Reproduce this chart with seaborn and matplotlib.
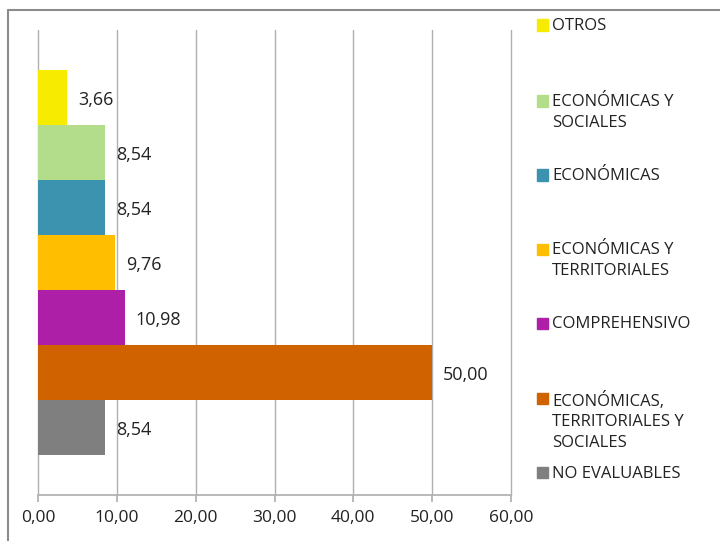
import numpy as np
import pandas as pd
import seaborn as sns
import matplotlib.pyplot as plt
from matplotlib.ticker import FuncFormatter, MultipleLocator
from matplotlib.lines import Line2D
from matplotlib.patches import Rectangle

# ─── Data ────────────────────────────────────────────────────────────────────
categories = ['OTROS', 'ECONÓMICAS Y\nSOCIALES', 'ECONÓMICAS',
              'ECONÓMICAS Y\nTERRITORIALES', 'COMPREHENSIVO',
              'ECONÓMICAS,\nTERRITORIALES Y\nSOCIALES', 'NO EVALUABLES']
values = [3.66, 8.54, 8.54, 9.76, 10.98, 50.00, 8.54]
colors = ['#F7EC00', '#B3DC8B', '#3C93AF', '#FFBF00', '#AE1FA8', '#D16200', '#7F7F7F']

# legend entry first-line centres (figure px from top)
legend_y = [25, 101, 175, 249, 323, 398, 472]

sns.set_theme(style='white')
plt.rcParams['font.family'] = ['Open Sans', 'DejaVu Sans']

df = pd.DataFrame({'cat': categories, 'val': values})

W, H = 720, 541
fig = plt.figure(figsize=(W / 100, H / 100), dpi=100)
ax = fig.add_axes([38 / W, 1 - 495 / H, (511 - 38) / W, (495 - 30) / H])

sns.barplot(data=df, y='cat', x='val', hue='cat', palette=colors,
            order=categories, width=1.0, dodge=False, legend=False,
            saturation=1, ax=ax, edgecolor='none')

pad = 40 / 55
ax.set_ylim(len(categories) - 0.5 + pad, -0.5 - pad)
ax.set_xlim(0, 60)
ax.xaxis.set_major_locator(MultipleLocator(10))
ax.xaxis.set_major_formatter(FuncFormatter(lambda v, _: f'{v:.2f}'.replace('.', ',')))
ax.set_yticks([])
ax.set_xlabel('')
ax.set_ylabel('')

ax.grid(axis='x', color='#B0B0B0', lw=1)
ax.set_axisbelow(True)
for gl in ax.get_xgridlines():
    gl.set_clip_on(False)
for s in ['top', 'right', 'left']:
    ax.spines[s].set_visible(False)
ax.spines['bottom'].set_color('#B0B0B0')
ax.tick_params(axis='x', bottom=True, length=5, color='#B0B0B0',
               labelsize=12.5, labelcolor='#222222', pad=6)

# value labels
for i, v in enumerate(values):
    ax.annotate(f'{v:.2f}'.replace('.', ','), (v, i), xytext=(8, -2),
                textcoords='offset points', va='center', ha='left',
                fontsize=13, color='#222222')

# legend drawn by hand, Excel-style
for lab, col, yy in zip(categories, colors, legend_y):
    fy = 1 - yy / H
    fig.patches.append(Rectangle((537 / W, fy - 5.5 / H), 11 / W, 11 / H,
                                 transform=fig.transFigure, color=col))
    fig.text(552 / W, fy + 6.5 / H, lab, va='top', ha='left', fontsize=12,
             color='#222222', linespacing=1.38)

# outer chart frame (cropped)
fig.add_artist(Line2D([8 / W, 8 / W], [0, 1 - 10 / H], transform=fig.transFigure,
                      color='#8C8C8C', lw=1.5))
fig.add_artist(Line2D([8 / W, 1], [1 - 10 / H, 1 - 10 / H], transform=fig.transFigure,
                      color='#8C8C8C', lw=1.5))

fig.savefig('out.png', dpi=100, facecolor='white')
